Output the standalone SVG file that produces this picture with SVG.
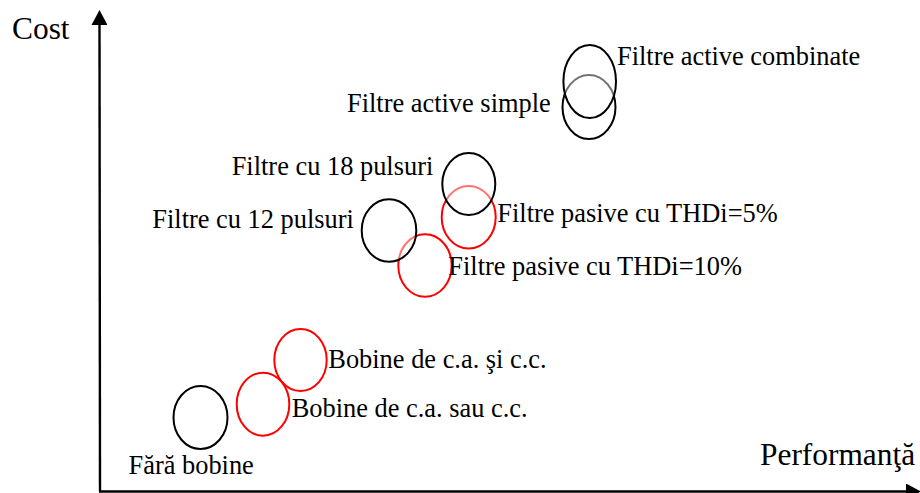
<svg xmlns="http://www.w3.org/2000/svg" width="920" height="493" viewBox="0 0 920 493">
  <style>
    text { font-family: "Liberation Serif", "Times New Roman", serif; fill: #000; }
    .lbl { font-size: 26.4px; }
    .axl { font-size: 31.4px; }
    .blk { fill: #fff; fill-opacity: 0.45; stroke: #000; stroke-width: 2; }
    .red { fill: none; stroke: #f00; stroke-width: 2; }
    .axis { stroke: #000; stroke-width: 2.4; fill: none; }
  </style>
  <defs>
    <marker id="arrow" markerWidth="16" markerHeight="16" viewBox="0 0 16 16" refX="0" refY="8" orient="auto" markerUnits="userSpaceOnUse">
      <path d="M0,0 L15,8 L0,16 Z" fill="#000"/>
    </marker>
  </defs>

  <!-- axes -->
  <g id="connectors">
    <line class="axis" x1="100" y1="491.5" x2="99.5" y2="25" marker-end="url(#arrow)"/>
    <line class="axis" x1="99" y1="491.5" x2="906" y2="491.5" marker-end="url(#arrow)"/>
  </g>
  <g id="axis-labels">
    <text class="axl" x="12" y="39">Cost</text>
    <text class="axl" x="760" y="465">Performanţă</text>
  </g>

  <g id="fara-bobine">
    <ellipse class="blk" cx="200.5" cy="417.5" rx="27" ry="31.5"/>
    <text class="lbl" x="128.5" y="474">Fără bobine</text>
  </g>
  <g id="bobine-sau">
    <ellipse class="red" cx="263" cy="404.2" rx="26.3" ry="31.5"/>
    <text class="lbl" x="291.7" y="416.7">Bobine de c.a. sau c.c.</text>
  </g>
  <g id="bobine-si">
    <ellipse class="red" cx="300.5" cy="360" rx="26.2" ry="31"/>
    <text class="lbl" x="328.3" y="368.3">Bobine de c.a. şi c.c.</text>
  </g>

  <g id="pasive-10">
    <ellipse class="red" cx="425" cy="265.5" rx="26.7" ry="31.2"/>
    <text class="lbl" x="448.3" y="275">Filtre pasive cu THDi=10%</text>
  </g>
  <g id="pulsuri-12">
    <ellipse class="blk" cx="389" cy="230.5" rx="27.3" ry="31.2"/>
    <text class="lbl" x="152.3" y="228.3">Filtre cu 12 pulsuri</text>
  </g>

  <g id="pasive-5">
    <ellipse class="red" cx="468.7" cy="217.3" rx="27" ry="31.3"/>
    <text class="lbl" x="497.3" y="221.7">Filtre pasive cu THDi=5%</text>
  </g>
  <g id="pulsuri-18">
    <ellipse class="blk" cx="468.8" cy="184" rx="26.5" ry="31"/>
    <text class="lbl" x="231.7" y="175">Filtre cu 18 pulsuri</text>
  </g>

  <g id="active-simple">
    <ellipse class="blk" cx="589" cy="107" rx="26.5" ry="32"/>
    <text class="lbl" x="347" y="112">Filtre active simple</text>
  </g>
  <g id="active-combinate">
    <ellipse class="blk" cx="589.7" cy="81.5" rx="26.3" ry="36.5"/>
    <text class="lbl" x="617" y="65">Filtre active combinate</text>
  </g>
</svg>
